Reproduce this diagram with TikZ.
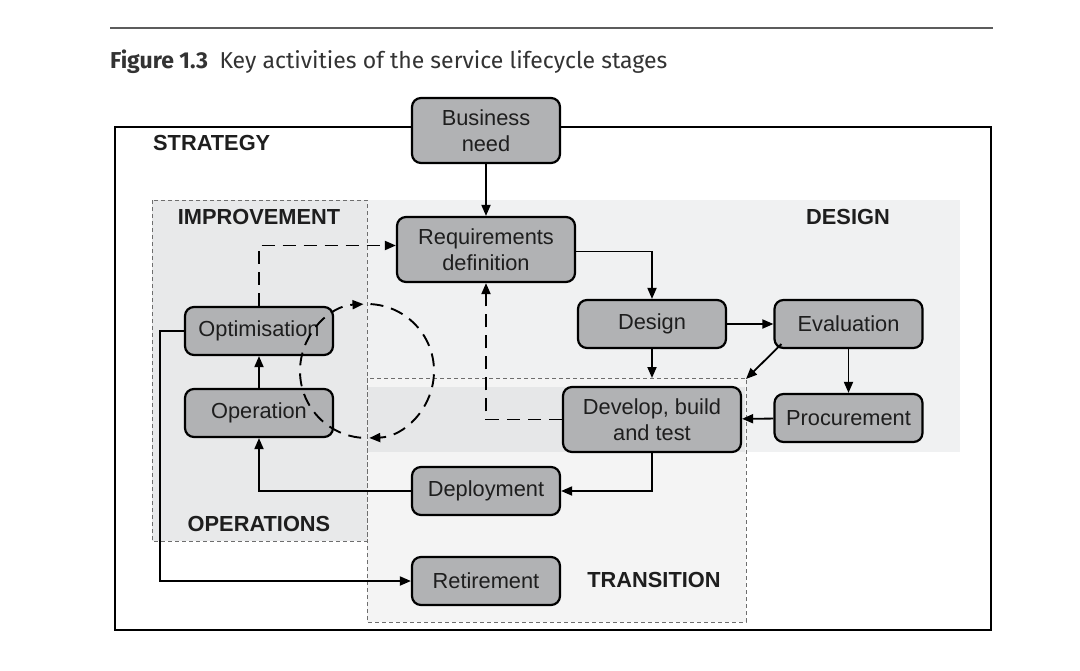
\documentclass[tikz,border=0pt]{standalone}
\usepackage{fontspec}
\setmainfont{Liberation Sans}
\newfontfamily\capfont{Fira Sans}
\usetikzlibrary{arrows.meta}
\definecolor{boxgray}{HTML}{B1B2B4}
\definecolor{designbg}{HTML}{F0F1F2}
\definecolor{transbg}{HTML}{F4F4F4}
\definecolor{overlapbg}{HTML}{E6E7E8}
\definecolor{leftbg}{HTML}{E8E9EA}
\definecolor{txt}{HTML}{1E1E1E}
\definecolor{captxt}{HTML}{333333}
\definecolor{regionline}{HTML}{6E6E6E}
\begin{document}
\begin{tikzpicture}[x=1pt,y=-1pt,
  box/.style={draw=black, line width=2.2pt, rounded corners=9pt, fill=boxgray,
    align=center, inner sep=0pt, text=txt, minimum width=148pt, minimum height=48pt,
    font=\fontsize{21.8}{26}\selectfont},
  wide/.style={minimum width=178pt, minimum height=65pt},
  tall/.style={minimum height=65pt},
  lbl/.style={font=\bfseries\fontsize{21.8}{26}\selectfont, text=txt, inner sep=0pt},
  arr/.style={line width=1.8pt, -{Triangle[length=11pt,width=9pt]}},
  darr/.style={line width=1.9pt, dash pattern=on 13pt off 8pt, -{Triangle[length=11pt,width=9pt]}},
  region/.style={draw=regionline, line width=0.9pt, dash pattern=on 4pt off 3pt},
]
\useasboundingbox (0,0) rectangle (1080,670);
\fill[white] (0,0) rectangle (1080,670);
% top rule and caption
\draw[line width=1.5pt, color=captxt!80] (110,28) -- (993,28);
\node[anchor=base west, inner sep=0pt, text=captxt, font=\capfont\fontsize{23}{27}\selectfont] (cap) at (110,68)
  {{\bfseries Figure 1.3}\hspace{0.5em}Key activities of the service lifecycle stages};
% strategy frame
\draw[line width=2pt] (115,127) rectangle (991,630);
% regions
\fill[designbg] (367,200) rectangle (960,452);
\filldraw[region, fill=transbg] (367,378) rectangle (746,622);
\fill[overlapbg] (368,387) rectangle (745,452);
\filldraw[region, fill=leftbg] (152,200) rectangle (367,541);
% labels
\node[lbl, anchor=west] (lstrat) at (153,143) {STRATEGY};
\node[lbl] (limp) at (259,217) {IMPROVEMENT};
\node[lbl] (ldes) at (848,217) {DESIGN};
\node[lbl] (lops) at (259,524) {OPERATIONS};
\node[lbl] (ltra) at (654,580) {TRANSITION};
% boxes
\node[box, tall] (bn) at (486,130.5) {Business\\need};
\node[box, wide] (req) at (486,249.5) {Requirements\\definition};
\node[box] (des) at (652,324) {Design};
\node[box] (eval) at (848.5,324) {Evaluation};
\node[box] (opt) at (259,331) {Optimisation};
\node[box] (op) at (259,413) {Operation};
\node[box, wide] (dev) at (652,419.5) {Develop, build\\and test};
\node[box] (proc) at (848.5,418) {Procurement};
\node[box] (dep) at (486,491) {Deployment};
\node[box] (ret) at (486,581) {Retirement};
\coordinate (tdes) at (652,378);
\coordinate (tcorner) at (746,379);
\coordinate (lt) at (160,331);
% connectors
\draw[arr] (bn) -- (req);
\draw[arr] ([yshift=-2pt]req.east) -| (des.north);
\draw[arr] (des) -- (eval);
\draw[arr] (des.south) -- (tdes);
\draw[arr] ([shift={(8,-5)}]eval.south west) -- (tcorner);
\draw[arr] (eval) -- (proc);
\draw[arr] (proc) -- (dev);
\draw[arr] (dev.south) |- (dep.east);
\draw[arr] (dep.west) -| (op.south);
\draw[arr] (op) -- (opt);
\draw[arr] (opt.west) -- (lt) |- (ret.west);
\draw[darr] (opt.north) |- ([yshift=4pt]req.west);
\draw[darr] (dev.west) -| (req.south);
% improvement cycle
\draw[darr] (367,371) ++(95:67) arc[start angle=95, end angle=267, radius=67];
\draw[darr] (367,371) ++(273:67) arc[start angle=273, end angle=448, radius=67];
\end{tikzpicture}
\end{document}
